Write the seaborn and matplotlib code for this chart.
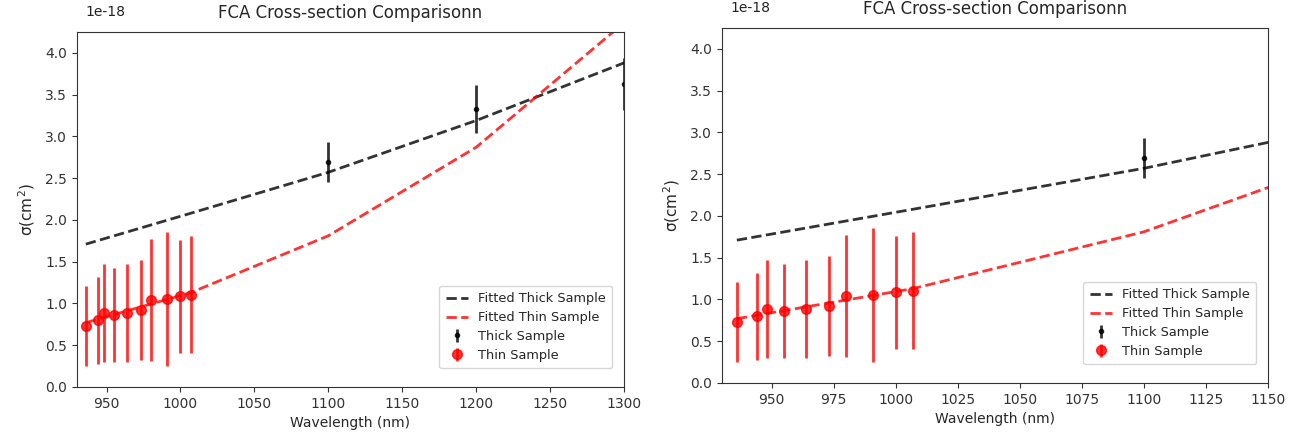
import numpy as np
import pandas as pd
import seaborn as sns
import matplotlib
matplotlib.use('Agg')
import matplotlib.pyplot as plt

# measured cross-sections [1e-18 cm^2]
thin_wl = [936, 944, 948, 955, 964, 973, 980, 991, 1000, 1007]
thin_sigma = [0.73, 0.80, 0.885, 0.865, 0.885, 0.925, 1.045, 1.057, 1.085, 1.105]
thin_err = [0.48, 0.52, 0.59, 0.56, 0.59, 0.60, 0.73, 0.80, 0.68, 0.70]

thick_wl = [1100, 1200, 1300]
thick_sigma = [2.69, 3.33, 3.63]
thick_err = [0.24, 0.29, 0.31]

# fitted curves
fit_wl = [936, 1007, 1100, 1200, 1300]
fit_thick = [1.71, 2.08, 2.57, 3.19, 3.88]
fit_thin = [0.77, 1.13, 1.81, 2.87, 4.36]

scale = 1e-18
fit_df = pd.DataFrame({
    'Wavelength (nm)': fit_wl * 2,
    'sigma': np.array(fit_thick + fit_thin) * scale,
    'curve': ['Fitted Thick Sample'] * len(fit_wl) + ['Fitted Thin Sample'] * len(fit_wl),
})

sns.set_style('ticks')
plt.rcParams['font.family'] = ['DejaVu Sans']
plt.rcParams['axes.unicode_minus'] = False

fig = plt.figure(figsize=(13.02, 4.44), dpi=100)
ax1 = fig.add_axes([0.0591, 0.1284, 0.4202, 0.7996])
ax2 = fig.add_axes([0.5545, 0.1374, 0.4194, 0.7996])

for ax, xlim, xticks in [(ax1, (930, 1300), np.arange(950, 1301, 50)),
                         (ax2, (930, 1150), np.arange(950, 1151, 25))]:
    sns.lineplot(data=fit_df, x='Wavelength (nm)', y='sigma', hue='curve',
                 palette={'Fitted Thick Sample': 'black', 'Fitted Thin Sample': 'red'},
                 ax=ax, linestyle='--', linewidth=2, alpha=0.8, sort=False)
    ax.errorbar(thick_wl, np.array(thick_sigma) * scale, yerr=np.array(thick_err) * scale,
                fmt='.', color='black', elinewidth=2, markersize=6, alpha=0.8,
                label='Thick Sample')
    ax.errorbar(thin_wl, np.array(thin_sigma) * scale, yerr=np.array(thin_err) * scale,
                fmt='o', color='red', elinewidth=2, markersize=7, alpha=0.8,
                label='Thin Sample')
    ax.set_xlim(*xlim)
    ax.set_xticks(xticks)
    ax.set_ylim(0, 4.25e-18)
    ax.set_yticks(np.arange(0, 4.01e-18, 0.5e-18))
    ax.set_title('FCA Cross-section Comparisonn', fontsize=12, pad=10)
    ax.set_xlabel('Wavelength (nm)', fontsize=10)
    ax.set_ylabel('σ(cm$^2$)', fontsize=11, labelpad=6)
    ax.tick_params(labelsize=10, colors='#333333')
    ax.yaxis.get_offset_text().set_visible(False)
    ax.text(0.015, 1.056, '1e-18', transform=ax.transAxes, fontsize=10,
            va='center', ha='left', color='#222222')
    for s in ax.spines.values():
        s.set_visible(True)
        s.set_color('#333333')
    handles, labels = ax.get_legend_handles_labels()
    ax.legend(handles, labels, loc='lower right', fontsize=9.3, frameon=True,
              handlelength=1.7, labelspacing=0.45, borderpad=0.5,
              bbox_to_anchor=(0.99, 0.035))

fig.savefig('out.png', dpi=100)
